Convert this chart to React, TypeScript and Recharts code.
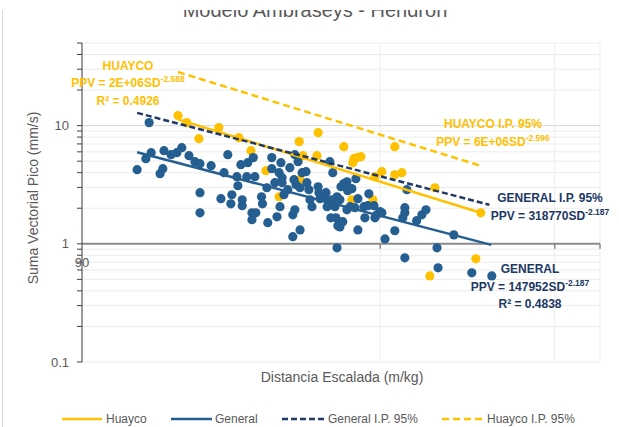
import React from 'react';
import { ScatterChart, Scatter, XAxis, YAxis, CartesianGrid, ReferenceLine } from 'recharts';

// [distancia escalada (m/kg), PPV (mm/s)]
const huaycoData: [number, number][] = [
  [112.5, 12.16], [114.8, 10.6], [118.1, 7.76], [123.7, 9.62], [129.6, 7.91], [133.3, 6.14],
  [138.0, 4.16], [142.3, 2.5], [149.1, 7.32], [155.8, 8.72], [150.4, 5.57], [155.4, 5.57],
  [165.4, 6.64], [149.4, 3.49], [169.3, 5.25], [170.5, 5.36], [172.1, 5.46], [168.9, 4.86],
  [186.2, 6.64], [177.8, 3.7], [180.7, 4.08], [186.2, 3.84], [189.3, 4.0], [204.4, 2.98],
  [227.4, 1.83], [168.5, 2.36], [177.0, 2.36], [224.8, 0.746], [202.0, 0.535],
];

const generalData: [number, number][] = [
  [102.3, 4.24], [104.4, 5.25], [105.2, 10.6], [105.7, 5.9], [107.9, 3.92], [108.6, 4.32],
  [108.9, 6.14], [110.7, 5.68], [112.2, 5.9], [113.5, 6.51], [115.4, 5.57], [117.0, 4.95],
  [118.4, 4.76], [121.5, 4.58], [125.2, 4.0], [118.4, 2.71], [118.4, 1.83], [124.3, 2.41],
  [126.3, 5.68], [127.5, 2.6], [127.2, 2.18], [130.2, 4.67], [129.0, 3.7], [129.3, 3.1],
  [132.0, 3.7], [132.3, 4.86], [134.0, 5.36], [134.5, 3.7], [130.6, 2.36], [130.6, 2.1],
  [133.6, 1.83], [133.6, 1.6], [134.8, 1.83], [136.6, 2.5], [136.9, 2.18], [138.3, 2.98],
  [138.6, 1.51], [139.9, 5.36], [139.9, 4.32], [140.9, 3.29], [141.6, 1.69], [142.9, 4.86],
  [142.3, 4.0], [143.3, 3.63], [143.3, 3.29], [143.9, 2.6], [142.6, 2.06], [145.2, 2.87],
  [145.9, 4.41], [146.9, 1.76], [147.6, 1.94], [146.9, 1.15], [149.4, 1.31], [147.6, 5.68],
  [148.7, 4.95], [147.3, 3.49], [148.0, 3.16], [150.1, 4.0], [149.4, 2.98], [151.5, 4.08],
  [151.8, 3.29], [152.5, 2.87], [152.9, 2.36], [153.6, 2.06], [155.8, 3.04], [156.1, 2.71],
  [156.5, 2.41], [158.7, 2.71], [159.1, 2.36], [159.1, 2.06], [160.1, 4.95], [161.2, 4.0],
  [160.9, 2.36], [162.0, 2.06], [162.8, 2.5], [160.5, 1.66], [162.4, 1.66], [163.1, 1.42],
  [164.3, 3.04], [165.4, 3.23], [166.9, 2.81], [162.8, 0.925], [166.6, 1.94], [166.6, 3.35],
  [168.5, 2.93], [170.1, 3.56], [163.9, 2.36], [167.8, 2.06], [170.9, 2.41], [169.7, 2.02],
  [173.3, 2.06], [175.3, 2.65], [174.9, 2.1], [173.7, 1.66], [177.4, 2.1], [178.6, 1.76],
  [177.8, 1.66], [179.9, 1.87], [180.7, 1.83], [170.9, 1.31], [163.9, 1.39], [165.0, 1.54],
  [182.0, 1.1], [186.2, 1.29], [190.6, 2.02], [190.6, 1.83], [189.7, 1.66], [191.5, 2.87],
  [195.9, 1.57], [198.3, 1.76], [200.2, 1.94], [213.6, 1.19], [205.4, 0.925], [190.6, 0.761],
  [205.9, 0.626], [222.7, 0.568], [233.3, 0.535],
];

// trend lines (end points of the fitted power curves)
const huaycoFit: [number, number][] = [[112.5, 11.3], [227.4, 1.83]];
const generalFit: [number, number][] = [[102.3, 5.95], [233, 0.98]];
const generalIpFit: [number, number][] = [[102.3, 12.82], [232, 2.14]];
const huaycoIpFit: [number, number][] = [[112.5, 28.4], [227.4, 4.57]];

const xTicks = [90, 180, 270, 300];
const xLabels = [90];
const yTicks = [
  0.1, 0.2, 0.3, 0.4, 0.5, 0.6, 0.7, 0.8, 0.9,
  1, 2, 3, 4, 5, 6, 7, 8, 9,
  10, 20, 30, 40, 50,
];
const yLabels = [0.1, 1, 10];

const W = 619;
const H = 427;
const PLOT = { left: 82, right: 600, top: 43, bottom: 362 };
const X_DOMAIN: [number, number] = [90, 300];
const Y_DOMAIN: [number, number] = [0.1, 50];

const YELLOW = '#FFC000';
const BLUE = '#255E91';
const NAVY = '#203864';
const GRAY_TEXT = '#595959';

const toObjs = (arr: [number, number][]) => arr.map(([sd, ppv]) => ({ sd, ppv }));

// pixel row where the x axis crosses (PPV = 1)
const yAt = (v: number) =>
  PLOT.top +
  ((PLOT.bottom - PLOT.top) * Math.log10(Y_DOMAIN[1] / v)) / Math.log10(Y_DOMAIN[1] / Y_DOMAIN[0]);

function XTick(props: any) {
  const { x, payload } = props;
  const y0 = yAt(1);
  const v = payload.value;
  return (
    <g>
      {v !== X_DOMAIN[0] && <line x1={x} x2={x} y1={y0} y2={y0 + 5} stroke="#868686" strokeWidth={1.5} />}
      {xLabels.includes(v) && (
        <text x={x} y={y0 + 23} textAnchor="middle" fontSize={13} fill={GRAY_TEXT}>
          {v}
        </text>
      )}
    </g>
  );
}

function YTick(props: any) {
  const { x, y, payload } = props;
  if (!yLabels.includes(payload.value)) return <g />;
  return (
    <text x={x} y={y} dy={4.5} textAnchor="end" fontSize={13} fill={GRAY_TEXT}>
      {payload.value}
    </text>
  );
}

const dot = (color: string) => (p: any) => <circle cx={p.cx} cy={p.cy} r={4.6} fill={color} />;
const noDot = () => <g />;

function EqLabel({ x, y, color, lines }: { x: number; y: number; color: string; lines: [string, string?][] }) {
  return (
    <g>
      {lines.map(([base, sup], i) => (
        <text
          key={i}
          x={x}
          y={y + i * 17.5}
          textAnchor="middle"
          fontSize={12}
          fontWeight="bold"
          fill={color}
        >
          {base}
          {sup && (
            <tspan fontSize={8.5} dy={-5}>
              {sup}
            </tspan>
          )}
        </text>
      ))}
    </g>
  );
}

const legendItems = [
  { label: 'Huayco', color: YELLOW, dash: undefined, x1: 62, x2: 102, tx: 106 },
  { label: 'General', color: BLUE, dash: undefined, x1: 171, x2: 212, tx: 215 },
  { label: 'General I.P. 95%', color: NAVY, dash: '6 3', x1: 282, x2: 325, tx: 328 },
  { label: 'Huayco I.P. 95%', color: YELLOW, dash: '7 4', x1: 442, x2: 483, tx: 487 },
];

export default function App() {
  return (
    <div
      style={{
        position: 'absolute',
        left: 0,
        top: 0,
        width: W,
        height: H,
        overflow: 'hidden',
        background: '#fff',
        fontFamily: '"Liberation Sans", Arial, sans-serif',
      }}
    >
      <ScatterChart
        width={W}
        height={H}
        margin={{ top: PLOT.top, right: W - PLOT.right, bottom: H - PLOT.bottom - 1, left: 0 }}
      >
        <CartesianGrid stroke="#ececec" strokeWidth={1} />
        <XAxis
          type="number"
          dataKey="sd"
          scale="log"
          domain={X_DOMAIN}
          allowDataOverflow
          ticks={xTicks}
          interval={0}
          height={1}
          axisLine={false}
          tickLine={false}
          tick={(p: any) => <XTick {...p} />}
        />
        <YAxis
          type="number"
          dataKey="ppv"
          scale="log"
          domain={Y_DOMAIN}
          allowDataOverflow
          ticks={yTicks}
          interval={0}
          width={PLOT.left}
          tickSize={5}
          tickMargin={8}
          axisLine={{ stroke: '#404040' }}
          tickLine={{ stroke: '#404040' }}
          tick={(p: any) => <YTick {...p} />}
        />
        <ReferenceLine y={10} stroke="#d9d9d9" strokeWidth={1} />
        <ReferenceLine y={1} stroke="#8a8a8a" strokeWidth={2} />
        <Scatter data={toObjs(huaycoData)} shape={dot(YELLOW)} isAnimationActive={false} />
        <Scatter data={toObjs(generalData)} shape={dot(BLUE)} isAnimationActive={false} />
        <Scatter
          data={toObjs(huaycoFit)}
          line={{ stroke: YELLOW, strokeWidth: 2.5 }}
          lineType="joint"
          shape={noDot}
          isAnimationActive={false}
        />
        <Scatter
          data={toObjs(generalFit)}
          line={{ stroke: BLUE, strokeWidth: 2.5 }}
          lineType="joint"
          shape={noDot}
          isAnimationActive={false}
        />
        <Scatter
          data={toObjs(generalIpFit)}
          line={{ stroke: NAVY, strokeWidth: 2.5, strokeDasharray: '6 3' }}
          lineType="joint"
          shape={noDot}
          isAnimationActive={false}
        />
        <Scatter
          data={toObjs(huaycoIpFit)}
          line={{ stroke: YELLOW, strokeWidth: 2.5, strokeDasharray: '7 4' }}
          lineType="joint"
          shape={noDot}
          isAnimationActive={false}
        />
      </ScatterChart>

      <svg
        width={W}
        height={H}
        style={{ position: 'absolute', left: 0, top: 0, pointerEvents: 'none' }}
        fontFamily='"Liberation Sans", Arial, sans-serif'
      >
        <text x={315} y={16.5} textAnchor="middle" fontSize={20} fill={GRAY_TEXT}>
          Modelo Ambraseys - Hendron
        </text>
        <rect x={0} y={0} width={W} height={10} fill="#fff" />
        <line x1={2.5} x2={2.5} y1={10} y2={H} stroke="#d9d9d9" />

        <text
          transform="translate(38,198) rotate(-90)"
          textAnchor="middle"
          fontSize={14}
          fill={GRAY_TEXT}
        >
          Suma Vectorial Pico (mm/s)
        </text>
        <text x={342} y={382} textAnchor="middle" fontSize={14} fill={GRAY_TEXT}>
          Distancia Escalada (m/kg)
        </text>

        <EqLabel
          x={128}
          y={69.5}
          color={YELLOW}
          lines={[['HUAYCO'], ['PPV = 2E+06SD', '-2.588'], ['R² = 0.4926']]}
        />
        <EqLabel x={493} y={128} color={YELLOW} lines={[['HUAYCO I.P. 95%'], ['PPV = 6E+06SD', '-2.596']]} />
        <EqLabel x={550} y={202} color={NAVY} lines={[['GENERAL I.P. 95%'], ['PPV = 318770SD', '-2.187']]} />
        <EqLabel
          x={530}
          y={273}
          color={NAVY}
          lines={[['GENERAL'], ['PPV = 147952SD', '-2.187'], ['R² = 0.4838']]}
        />

        {legendItems.map((it) => (
          <g key={it.label}>
            <line
              x1={it.x1}
              x2={it.x2}
              y1={419}
              y2={419}
              stroke={it.color}
              strokeWidth={2.5}
              strokeDasharray={it.dash}
            />
            <text x={it.tx} y={423} fontSize={12} fill={GRAY_TEXT}>
              {it.label}
            </text>
          </g>
        ))}
      </svg>
    </div>
  );
}
